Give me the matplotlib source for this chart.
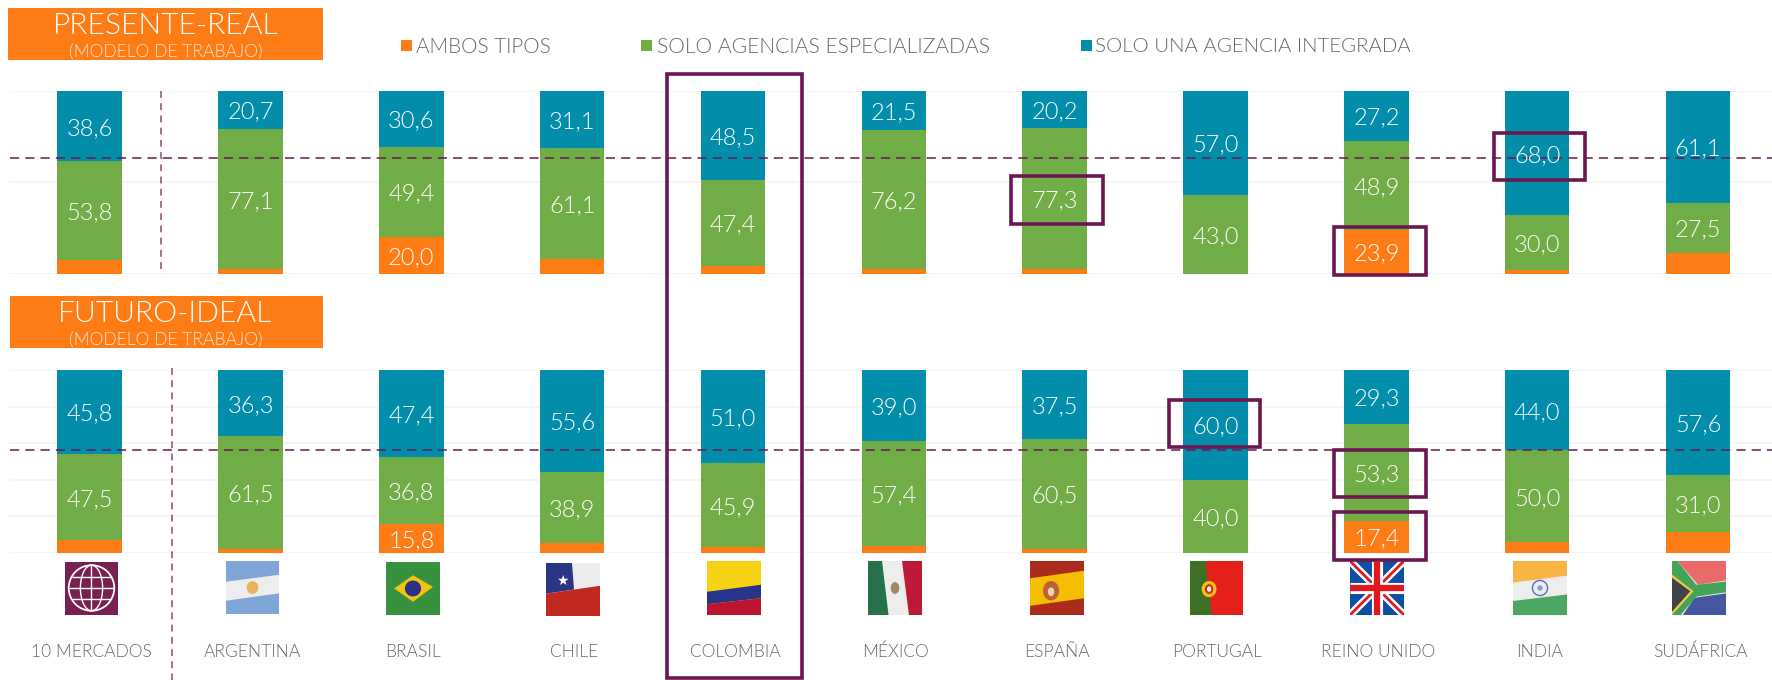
import numpy as np
import matplotlib
matplotlib.use("Agg")
import matplotlib.pyplot as plt
from matplotlib.patches import Rectangle, Polygon, Ellipse
from matplotlib import font_manager as fm
import os

FONT = "Lato"
W, H = 1772, 680
plt.rcParams['font.family'] = [FONT, 'DejaVu Sans']

# a true light cut, found by file name (weight="light" resolves to the hairline cut)
_light = [f for f in fm.findSystemFonts() if os.path.basename(f).lower() in ("lato-light.ttf", "lato-light.otf")]
LIGHT = dict(fontproperties=fm.FontProperties(fname=_light[0])) if _light else dict(family=FONT)

countries = ["10 MERCADOS", "ARGENTINA", "BRASIL", "CHILE", "COLOMBIA", "MÉXICO",
             "ESPAÑA", "PORTUGAL", "REINO UNIDO", "INDIA", "SUDÁFRICA"]
legend_labels = ["AMBOS TIPOS", "SOLO AGENCIAS ESPECIALIZADAS", "SOLO UNA AGENCIA INTEGRADA"]

real_ambos = [7.6, 2.2, 20.0, 7.8, 4.1, 2.3, 2.5, 0.0, 23.9, 2.0, 11.4]
real_espec = [53.8, 77.1, 49.4, 61.1, 47.4, 76.2, 77.3, 43.0, 48.9, 30.0, 27.5]
real_integ = [38.6, 20.7, 30.6, 31.1, 48.5, 21.5, 20.2, 57.0, 27.2, 68.0, 61.1]
real_ref = 63.3

ideal_ambos = [6.7, 2.2, 15.8, 5.5, 3.1, 3.6, 2.0, 0.0, 17.4, 6.0, 11.4]
ideal_espec = [47.5, 61.5, 36.8, 38.9, 45.9, 57.4, 60.5, 40.0, 53.3, 50.0, 31.0]
ideal_integ = [45.8, 36.3, 47.4, 55.6, 51.0, 39.0, 37.5, 60.0, 29.3, 44.0, 57.6]
ideal_ref = 56.0

C_ORANGE, C_GREEN, C_BLUE = "#fe7c15", "#70ad47", "#028eab"
C_PURPLE = "#6b1850"
C_TEXT = "#666666"

fig = plt.figure(figsize=(W/100, H/100), dpi=100, facecolor="white")

def px_axes(x0, y0, x1, y1, **kw):
    return fig.add_axes([x0/W, 1-y1/H, (x1-x0)/W, (y1-y0)/H], **kw)

X0, DX, BW = 89.6, 160.85, 64.5
AX_L, AX_R = 9, 1772
xlim = ((AX_L-X0)/DX, (AX_R-X0)/DX)
width = BW/DX

def txt(ax, x, y, s, size, **kw):
    fp = LIGHT.get("fontproperties")
    if fp is not None:
        fp = fp.copy(); fp.set_size(size)
        return ax.text(x, y, s, fontproperties=fp, **kw)
    return ax.text(x, y, s, fontsize=size, **kw)

def panel(y0, y1, a, b, c, ticks):
    ax = px_axes(AX_L, y0, AX_R, y1)
    ax.set_xlim(*xlim); ax.set_ylim(0, 100)
    for s in ax.spines.values():
        s.set_visible(False)
    ax.set_xticks([]); ax.set_yticks(ticks); ax.set_yticklabels([])
    ax.tick_params(length=0)
    ax.grid(axis="y", color="#f3f3f3", lw=1.1, zorder=0)
    ax.set_axisbelow(True)
    ax.patch.set_visible(False)
    x = np.arange(len(a))
    a, b, c = map(np.array, (a, b, c))
    ax.bar(x, a, width, color=C_ORANGE, zorder=2)
    ax.bar(x, b, width, bottom=a, color=C_GREEN, zorder=2)
    ax.bar(x, c, width, bottom=a+b, color=C_BLUE, zorder=2)
    return ax, x, a, b, c

pan1 = panel(91, 273.5, real_ambos, real_espec, real_integ, [0, 50, 100])
pan2 = panel(370, 552.7, ideal_ambos, ideal_espec, ideal_integ, [0, 20, 40, 60, 80, 100])

# Overlay in pixel coordinates
ov = fig.add_axes([0, 0, 1, 1], zorder=3)
ov.set_xlim(0, W); ov.set_ylim(H, 0); ov.axis("off"); ov.patch.set_visible(False)

# Value labels sit above the dashed reference lines
for (ax, x, a, b, c) in (pan1, pan2):
    ax.set_zorder(1)
    for i in x:
        for v, bot in ((a[i], 0), (b[i], a[i]), (c[i], a[i]+b[i])):
            if v >= 15:
                px, py = ov.transData.inverted().transform(ax.transData.transform((i, bot+v/2)))
                txt(ov, px, py, f"{v:.1f}".replace(".", ","), 17, color="white",
                    ha="center", va="center_baseline", zorder=5)

def yv(top, bot, v):
    return bot-(bot-top)*v/100

dash = dict(color=C_PURPLE, lw=1.1, dashes=(6, 4), zorder=3)
ov.plot([10, W], [yv(91, 273.5, real_ref)]*2, **dash)
ov.plot([10, W], [yv(370, 552.7, ideal_ref)]*2, **dash)
vd = dict(color="#8a4a75", lw=1.1, dashes=(4.5, 3.5), zorder=3)
ov.plot([161, 161], [91, 273], **vd)
ov.plot([172, 172], [368, 680], **vd)

# Header boxes
for (x0, y0, x1, y1, t) in [(8, 8, 323, 60, "PRESENTE-REAL"), (10, 296, 323, 348, "FUTURO-IDEAL")]:
    ov.add_patch(Rectangle((x0, y0), x1-x0, y1-y0, fc=C_ORANGE, ec="none"))
    txt(ov, 165.5, y0+18.5, t, 21.7, color="white", ha="center", va="center")
    txt(ov, 165.5, y0+43.5, "(MODELO DE TRABAJO)", 12.6, color="#fde3cf", ha="center", va="center")

# Legend
for sx, tx, col, lab, fs in [(401, 416, C_ORANGE, legend_labels[0], 14.9),
                             (641, 657, C_GREEN, legend_labels[1], 15.15),
                             (1081, 1095, C_BLUE, legend_labels[2], 14.65)]:
    ov.add_patch(Rectangle((sx, 40), 11.5, 11, fc=col, ec="none"))
    txt(ov, tx, 47, lab, fs, color=C_TEXT, ha="left", va="center")

# Country labels
for i, lab in enumerate(countries):
    txt(ov, X0+DX*i+2, 652, lab, 12.5, color=C_TEXT, ha="center", va="center")

# Highlight boxes
for (x0, y0, x1, y1) in [(667, 74, 802, 678), (1011, 176, 1103, 224), (1334, 227, 1426, 275),
                         (1494, 133, 1585, 180), (1169, 400, 1260, 447), (1334, 450, 1426, 497),
                         (1334, 512, 1426, 560)]:
    ov.add_patch(Rectangle((x0, y0), x1-x0, y1-y0, fc="none", ec=C_PURPLE, lw=2.6, zorder=6, joinstyle="miter"))

# Flags (drawn in normalised flag coordinates)
def flag(x0, y0, x1, y1):
    w, h = x1-x0, y1-y0
    clip = Rectangle((x0, y0), w, h, transform=ov.transData, fc="none", ec="none")
    ov.add_patch(clip)
    def poly(pts, col, z=4):
        p = Polygon([(x0+u*w, y0+v*h) for u, v in pts], closed=True, fc=col, ec="none", zorder=z)
        ov.add_patch(p); p.set_clip_path(clip); return p
    def circ(u, v, ru, rv, col, z=5, ec="none", lw=0):
        e = Ellipse((x0+u*w, y0+v*h), 2*ru*w, 2*rv*h, fc=col, ec=ec, lw=lw, zorder=z)
        ov.add_patch(e); return e
    def line(pts, col, lw, z=5):
        l, = ov.plot([x0+u*w for u, v in pts], [y0+v*h for u, v in pts], color=col, lw=lw, zorder=z,
                     solid_capstyle="butt")
        l.set_clip_path(clip); return l
    return poly, circ, line

FULL = [(0, 0), (1, 0), (1, 1), (0, 1)]

# Globe
p, c, l = flag(65, 562, 118, 615)
p(FULL, "#7a1f52")
c(.5, .49, .43, .43, "none", ec="white", lw=1.3)
c(.5, .49, .21, .43, "none", ec="white", lw=1.0)
l([(.5, .06), (.5, .92)], "white", 1.0)
for yy, hw in [(.28, .37), (.49, .43), (.70, .37)]:
    l([(.5-hw, yy), (.5+hw, yy)], "white", 1.0)

# Argentina
p, c, l = flag(226, 561, 279, 614)
p(FULL, "#7fa6d6")
p([(0, .39), (1, .26), (1, .61), (0, .75)], "#ededed")
c(.5, .5, .11, .12, "#e8b35c")

# Brasil
p, c, l = flag(386, 562, 440, 615)
p(FULL, "#38913f")
p([(.15, .5), (.5, .25), (.87, .47), (.5, .75)], "#f1c40f")
c(.5, .5, .15, .15, "#2f2f86")

# Chile
p, c, l = flag(546, 563, 600, 616)
p(FULL, "#ececec")
p([(0, 0), (.48, 0), (.52, .5), (0, .58)], "#2a3585")
p([(0, .58), (1, .43), (1, 1), (0, 1)], "#c0291f")
ov.text(546+.3*54, 563+.34*53, "★", color="white", fontsize=10, ha="center", va="center",
        family="DejaVu Sans", zorder=6)

# Colombia
p, c, l = flag(707, 561, 761, 615)
p(FULL, "#f6d415")
p([(0, .57), (1, .44), (1, .69), (0, .80)], "#27348b")
p([(0, .80), (1, .69), (1, 1), (0, 1)], "#bd1530")

# México
p, c, l = flag(868, 561, 922, 615)
p(FULL, "#ededed")
p([(0, 0), (.26, 0), (.38, 1), (0, 1)], "#26704a")
p([(.63, 0), (1, 0), (1, 1), (.76, 1)], "#bd1a38")
c(.5, .5, .08, .11, "#9c8a62")

# España
p, c, l = flag(1030, 561, 1084, 615)
p(FULL, "#ab2b1c")
p([(0, .32), (1, .18), (1, .69), (0, .83)], "#f3bf00")
c(.39, .55, .15, .18, "#c0603a")
c(.39, .57, .06, .08, "#e8d8b0", z=6)

# Portugal
p, c, l = flag(1190, 561, 1243, 615)
p(FULL, "#e5201b")
p([(0, 0), (.29, 0), (.41, 1), (0, 1)], "#3d6f25")
c(.36, .52, .14, .15, "#f2c80f")
c(.36, .52, .08, .09, "#d9261c", z=6)
c(.36, .52, .04, .05, "white", z=7)

# Reino Unido
p, c, l = flag(1350, 561, 1404, 615)
p(FULL, "#0b4ea2")
l([(0, 0), (1, 1)], "white", 5.5)
l([(1, 0), (0, 1)], "white", 5.5)
l([(0, 0), (1, 1)], "#e3181f", 2)
l([(1, 0), (0, 1)], "#e3181f", 2)
l([(.5, 0), (.5, 1)], "white", 8)
l([(0, .5), (1, .5)], "white", 8)
l([(.5, 0), (.5, 1)], "#e3181f", 4.5, z=6)
l([(0, .5), (1, .5)], "#e3181f", 4.5, z=6)

# India
p, c, l = flag(1513, 561, 1567, 615)
p(FULL, "#ededed")
p([(0, 0), (1, 0), (1, .27), (0, .40)], "#f8b545")
p([(0, .74), (1, .62), (1, 1), (0, 1)], "#4ca763")
c(.5, .5, .14, .14, "none", ec="#5a6fb0", lw=1.0)
c(.5, .5, .05, .05, "#8a9ac8")

# Sudáfrica
p, c, l = flag(1672, 561, 1726, 615)
p(FULL, "#ededed")
p([(.1, 0), (1, 0), (1, .36), (.48, .44)], "#ea6a6a")
p([(.42, .68), (1, .6), (1, 1), (.2, 1)], "#44579f")
p([(0, 0), (.1, 0), (.45, .44), (1, .38), (1, .58), (.45, .66), (.16, 1), (0, 1)], "#45a35a")
p([(0, .25), (.4, .56), (0, 1)], "#f5c842")
p([(0, .31), (.34, .56), (0, .94)], "#3f4448", z=5)

fig.savefig("out.png", dpi=100, facecolor="white")
